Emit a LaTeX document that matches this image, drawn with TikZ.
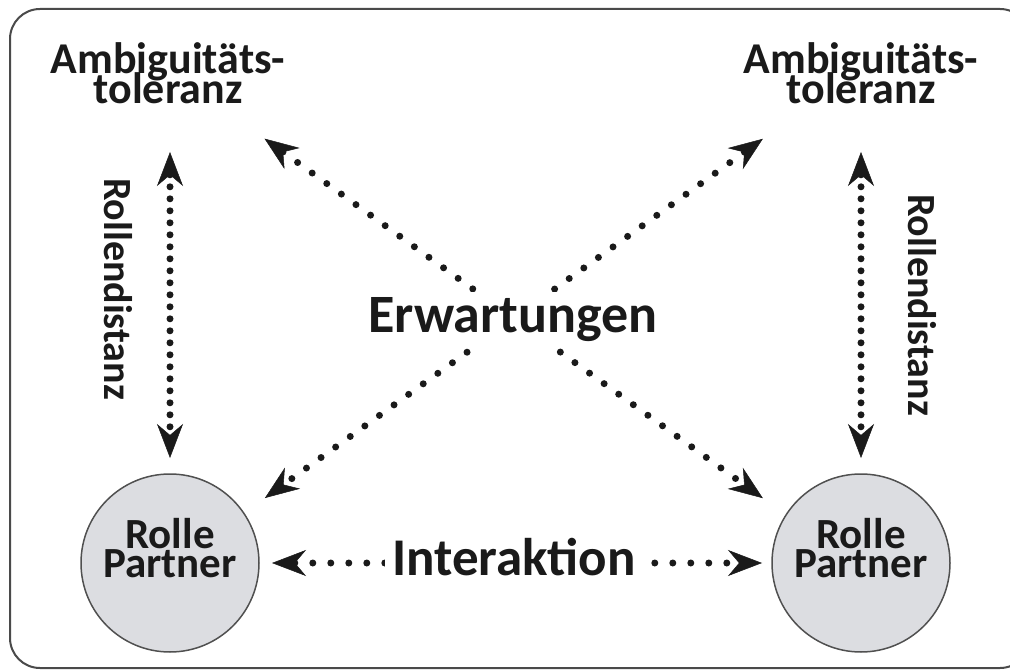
\documentclass[tikz,border=0pt]{standalone}
\usepackage{fontspec}
\setmainfont{Carlito}
\usetikzlibrary{arrows.meta,calc}
\definecolor{circfill}{HTML}{DCDDE1}
\definecolor{circline}{HTML}{505050}
\definecolor{framec}{HTML}{4A4A4A}
\definecolor{ink}{HTML}{1A1A1A}
\newcommand\twolines[3]{\vbox{\baselineskip=#1\lineskiplimit=-100pt\lineskip=0pt\halign{\hfil##\hfil\cr#2\cr#3\cr}}}
\begin{document}
\begin{tikzpicture}[x=1pt,y=-1pt,
  >={Stealth[length=34pt,width=26pt,inset=11pt,line width=0.5pt]},
  lbl/.style={font=\bfseries\fontsize{44}{30}\selectfont, text=ink, inner sep=0pt},
  vlbl/.style={font=\bfseries\fontsize{40}{40}\selectfont, text=ink, rotate=-90, inner sep=0pt},
  rolle/.style={circle, draw=circline, line width=1.5pt, fill=circfill, minimum size=178pt, inner sep=0pt,
                font=\bfseries\fontsize{43}{29}\selectfont, text=ink},
  dotline/.style={ink, line width=7pt, line cap=round, dash pattern=on 0pt off #1, <->},
  dotline/.default=18pt
]
\useasboundingbox (0,0) rectangle (1010,671);
\clip (0,0) rectangle (1010,671);
\draw[framec, line width=2pt, rounded corners=30pt] (10,9) rectangle (1030,668);

\node[lbl] (ambL) at (168,73) {\twolines{30pt}{Ambiguitäts-}{toleranz}};
\node[lbl] (ambR) at (861,73) {\twolines{30pt}{Ambiguitäts-}{toleranz}};
\node[rolle] (rolL) at (170,563) {\raisebox{-14pt}[0pt][0pt]{\twolines{29pt}{Rolle}{Partner}}};
\node[rolle] (rolR) at (861,563) {\raisebox{-14pt}[0pt][0pt]{\twolines{29pt}{Rolle}{Partner}}};
\node[vlbl] (rdL) at (118,289) {Rollendistanz};
\node[vlbl] (rdR) at (922,305) {Rollendistanz};

% vertical arrows
\draw[dotline=12pt, shorten <=79pt, shorten >=105pt] (rolL.center |- ambL.center) -- (rolL.center);
\draw[dotline=12pt, shorten <=79pt, shorten >=105pt] (rolR.center |- ambR.center) -- (rolR.center);
% diagonals
\draw[dotline, shorten <=119pt, shorten >=121pt] ($(ambL.center)+(0,-4)$) -- ($(rolR.center)+(0,6)$);
\draw[dotline, shorten <=121pt, shorten >=117pt] ($(ambR.center)+(0,-5)$) -- ($(rolL.center)+(0,3.5)$);
% horizontal
\draw[dotline=18pt, shorten <=102pt, shorten >=99pt] (rolL.center) -- (rolR.center);

\node[anchor=base, font=\bfseries\fontsize{54}{54}\selectfont, text=ink, fill=white, inner xsep=8pt, inner ysep=5pt] (erw) at (513,332) {Erwartungen};
\node[anchor=base, font=\bfseries\fontsize{53}{53}\selectfont, text=ink, fill=white, inner xsep=7pt, inner ysep=2pt] (int) at (514,575) {Interaktion};
\end{tikzpicture}
\end{document}
